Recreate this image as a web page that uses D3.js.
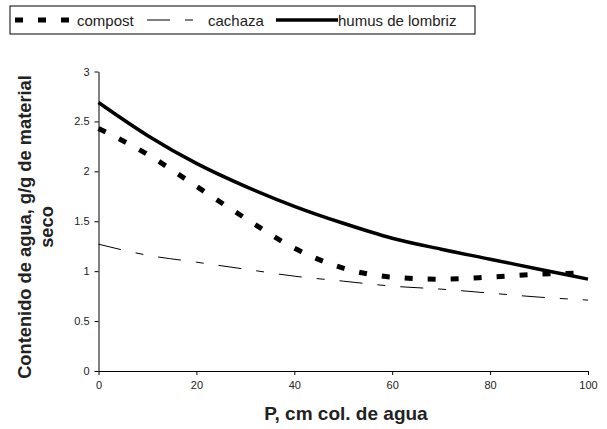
<!DOCTYPE html>
<html>
<head>
<meta charset="utf-8">
<script src="https://cdn.jsdelivr.net/npm/d3@7"></script>
<style>
  body { margin: 0; background: #fff; }
  svg { font-family: "Liberation Sans", Arial, sans-serif; }
</style>
</head>
<body>
<div id="vis"></div>
<script>
const WIDTH = 607;
const HEIGHT = 429;
const MARG = {left: 98.5, right: 19, top: 71.5, bottom: 58};

// data
const P_CM = [0, 10, 20, 30, 40, 50, 60, 70, 80, 90, 100];
const COMPOST = [2.43, 2.17, 1.85, 1.53, 1.23, 1.03, 0.94, 0.92, 0.94, 0.97, 0.98];
const CACHAZA = [1.27, 1.16, 1.09, 1.02, 0.95, 0.9, 0.85, 0.82, 0.78, 0.74, 0.71];
const HUMUS = [2.69, 2.36, 2.08, 1.85, 1.65, 1.48, 1.33, 1.22, 1.12, 1.02, 0.92];
const X_TICKS = [0, 20, 40, 60, 80, 100];
const Y_TICKS = [0, 0.5, 1, 1.5, 2, 2.5, 3];

const SERIES = [
  {name: "compost", values: COMPOST, width: 5, dash: "8,15"},
  {name: "cachaza", values: CACHAZA, width: 1, dash: "23,15,8,15"},
  {name: "humus de lombriz", values: HUMUS, width: 3.5, dash: null}
];

const VIS_WIDTH = WIDTH - MARG.left - MARG.right;
const VIS_HEIGHT = HEIGHT - MARG.top - MARG.bottom;

const svg = d3.select("#vis").append("svg")
  .attr("width", WIDTH)
  .attr("height", HEIGHT);

const X_SCALE = d3.scaleLinear().domain([0, 100]).range([0, VIS_WIDTH]);
const Y_SCALE = d3.scaleLinear().domain([0, 3]).range([VIS_HEIGHT, 0]);

const g = svg.append("g")
  .attr("transform", "translate(" + MARG.left + "," + MARG.top + ")");

// axes
const xAxis = g.append("g")
  .attr("transform", "translate(0," + VIS_HEIGHT + ")")
  .call(d3.axisBottom(X_SCALE).tickValues(X_TICKS).tickSize(4).tickSizeOuter(0).tickPadding(6));
const yAxis = g.append("g")
  .call(d3.axisLeft(Y_SCALE).tickValues(Y_TICKS).tickSize(4).tickSizeOuter(0).tickPadding(5)
    .tickFormat(d3.format("")));

[xAxis, yAxis].forEach((a) => {
  a.attr("font-family", null).attr("font-size", 11);
  a.selectAll("path, line").attr("stroke", "#000").attr("stroke-width", 1);
  a.selectAll("text").attr("fill", "#222");
});

// lines
const line = d3.line()
  .x((d, i) => X_SCALE(P_CM[i]))
  .y((d) => Y_SCALE(d))
  .curve(d3.curveMonotoneX);

SERIES.forEach((s) => {
  g.append("path")
    .datum(s.values)
    .attr("d", line)
    .attr("fill", "none")
    .attr("stroke", "#000")
    .attr("stroke-width", s.width)
    .attr("stroke-dasharray", s.dash);
});

// axis titles
svg.append("text")
  .attr("x", 346)
  .attr("y", 420)
  .attr("text-anchor", "middle")
  .attr("font-size", 19)
  .attr("font-weight", "bold")
  .attr("fill", "#222")
  .text("P, cm col. de agua");

const yTitle = svg.append("text")
  .attr("transform", "translate(0,227) rotate(-90)")
  .attr("text-anchor", "middle")
  .attr("font-size", 18.3)
  .attr("font-weight", "bold")
  .attr("fill", "#222");
yTitle.append("tspan").attr("x", 0).attr("y", 31).text("Contenido de agua, g/g de material");
yTitle.append("tspan").attr("x", 0).attr("y", 53).text("seco");

// legend
const legend = svg.append("g");
legend.append("rect")
  .attr("x", 10).attr("y", 6)
  .attr("width", 465).attr("height", 28)
  .attr("fill", "#fff")
  .attr("stroke", "#000")
  .attr("stroke-width", 1);

const LEG_ITEMS = [
  {x1: 15, x2: 72, tx: 77},
  {x1: 147, x2: 200, tx: 208},
  {x1: 276, x2: 338, tx: 338}
];
SERIES.forEach((s, i) => {
  const it = LEG_ITEMS[i];
  legend.append("line")
    .attr("x1", it.x1).attr("x2", it.x2)
    .attr("y1", 20).attr("y2", 20)
    .attr("stroke", "#000")
    .attr("stroke-width", s.width)
    .attr("stroke-dasharray", s.dash);
  legend.append("text")
    .attr("x", it.tx).attr("y", 25.5)
    .attr("font-size", 15)
    .attr("fill", "#222")
    .text(s.name);
});
</script>
</body>
</html>
